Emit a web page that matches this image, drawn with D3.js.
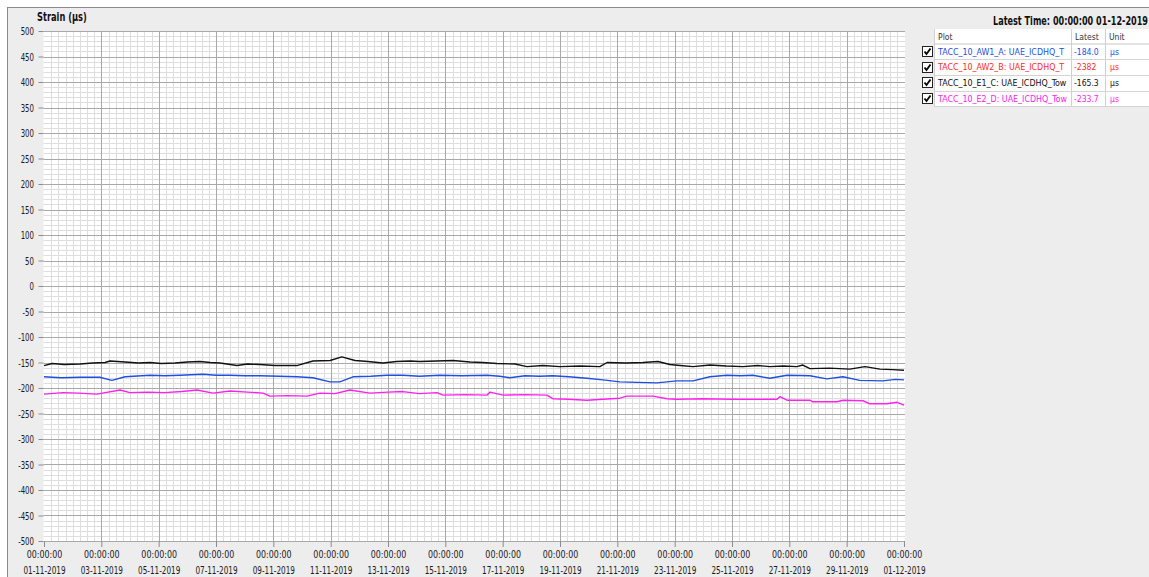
<!DOCTYPE html>
<html>
<head>
<meta charset="utf-8">
<script src="https://cdn.jsdelivr.net/npm/d3@7"></script>
<style>
  html, body { margin: 0; padding: 0; background: #fff; }
  svg text { font-family: "DejaVu Sans Condensed", "DejaVu Sans", sans-serif; }
</style>
</head>
<body>
<div id="chart"></div>
<script>
// chart values
var startDate = new Date(2019, 10, 1);   // 01-11-2019 00:00
var endDate = new Date(2019, 11, 1);     // 01-12-2019 00:00

// day offsets from start + strain values (µs)
var e1Days   = [0, 0.28, 0.7, 1.26, 1.7, 2.13, 2.3, 2.83, 3.3, 3.7, 4.1, 4.57, 5.0, 5.44, 5.8, 6.14, 6.73, 7.1, 7.53, 8.06, 8.82, 9.38, 9.98, 10.39, 10.85, 11.3, 11.82, 12.3, 12.77, 13.1, 13.7, 14.27, 14.86, 15.3, 15.8, 16.43, 16.85, 17.4, 18.0, 18.7, 19.39, 19.64, 20.3, 20.89, 21.42, 21.83, 22.2, 22.64, 23.23, 23.8, 24.38, 24.9, 25.32, 25.8, 26.26, 26.47, 26.72, 27.4, 28.11, 28.64, 29.16, 29.6, 30];
var e1Values = [-156, -152, -154, -153, -151, -150, -147, -149, -151, -150, -152, -151, -149, -148, -150, -151, -156, -153, -154, -156, -156, -147, -146, -139, -146, -148, -151, -148, -147, -148, -147, -146, -149, -150, -152, -153, -158, -156, -158, -157, -158, -150, -151, -150, -148, -154, -156, -158, -155, -157, -158, -156, -158, -157, -158, -155, -162, -161, -163, -158, -163, -164, -165.3];

var aw1Days   = [0, 0.6, 1.26, 1.95, 2.37, 2.83, 3.7, 4.2, 4.74, 5.55, 6.0, 6.49, 7.0, 7.53, 8.2, 8.82, 9.38, 9.98, 10.32, 10.78, 11.4, 11.96, 12.52, 13.1, 13.8, 14.6, 15.45, 15.9, 16.25, 16.78, 17.3, 17.75, 18.3, 18.94, 19.5, 20.09, 20.7, 21.38, 22.08, 22.64, 23.23, 23.82, 24.3, 24.73, 25.32, 25.92, 26.72, 27.31, 27.87, 28.46, 29.26, 29.7, 30];
var aw1Values = [-178, -180, -179, -179, -185, -178, -175, -176, -175, -173, -175, -175, -176, -176, -177, -178, -180, -188, -188, -178, -177, -175, -175, -177, -175, -176, -175, -177, -180, -176, -177, -176, -178, -181, -184, -188, -189, -190, -186, -186, -178, -175, -176, -175, -181, -175, -176, -182, -178, -185, -186, -183, -184.0];

var e2Days   = [0, 0.66, 1.2, 1.85, 2.65, 3.0, 3.6, 4.22, 4.8, 5.34, 5.89, 6.49, 7.1, 7.64, 7.88, 8.5, 9.17, 9.63, 10.15, 10.67, 11.37, 12.0, 12.52, 13.1, 13.71, 13.92, 14.7, 15.45, 15.56, 16.01, 16.8, 17.54, 17.75, 18.3, 18.94, 19.5, 20.09, 20.33, 21.24, 21.73, 22.08, 23.0, 24.0, 25.0, 25.57, 25.67, 25.92, 26.72, 26.82, 27.66, 27.87, 28.57, 28.81, 29.4, 29.76, 30];
var e2Values = [-212, -209, -210, -212, -204, -209, -208, -209, -207, -204, -210, -206, -208, -210, -216, -215, -216, -210, -211, -204, -210, -208, -207, -211, -209, -214, -213, -214, -208, -214, -213, -214, -221, -222, -224, -222, -220, -216, -216, -221, -222, -221, -222, -222, -222, -217, -224, -224, -227, -227, -224, -225, -231, -231, -228, -233.7];

// AW2_B sits far below the visible range
var aw2Days   = [0, 30];
var aw2Values = [-2382, -2382];

// legend table (names as far as the column shows them)
var plotNames = ["TACC_10_AW1_A: UAE_ICDHQ_T", "TACC_10_AW2_B: UAE_ICDHQ_T", "TACC_10_E1_C: UAE_ICDHQ_Tow", "TACC_10_E2_D: UAE_ICDHQ_Tow"];
var latestLabels = ["-184.0", "-2382", "-165.3", "-233.7"];
var unitLabels = ["µs", "µs", "µs", "µs"];
var seriesColors = ["#1f4fe0", "#ff2a2a", "#111111", "#ff22ee"];

var yTicks = d3.range(-500, 501, 50);

var W = 1149, H = 577;
var plotL = 43.5, plotR = 905, plotT = 31, plotB = 541;
var squeeze = 0.78;   // the source font is a narrow one

var svg = d3.select("#chart").append("svg").attr("width", W).attr("height", H);

// place a text with a horizontal squeeze
function sq(sel, px, py, s) {
  return sel.attr("x", 0).attr("y", 0).attr("transform", "translate(" + px + "," + py + ") scale(" + (s || squeeze) + ",1)");
}

// window frame
svg.append("rect").attr("x", 0).attr("y", 0).attr("width", W).attr("height", H).attr("fill", "#ffffff");
svg.append("rect").attr("x", 7.5).attr("y", 7.5).attr("width", W).attr("height", H).attr("fill", "#ededed").attr("stroke", "#8a8a8a").attr("stroke-width", 1);

var x = d3.scaleTime().domain([startDate, endDate]).range([44, 904]);
var y = d3.scaleLinear().domain([-500, 500]).range([plotB, plotT]);

svg.append("rect").attr("x", plotL).attr("y", plotT).attr("width", plotR - plotL).attr("height", plotB - plotT).attr("fill", "#ffffff");

var defs = svg.append("defs");
defs.append("clipPath").attr("id", "plotClip").append("rect")
  .attr("x", plotL).attr("y", plotT).attr("width", plotR - plotL).attr("height", plotB - plotT);

var grid = svg.append("g").attr("class", "grid");
// minor grid
grid.selectAll(".hminor").data(d3.range(-500, 501, 10).filter(function(d) { return d % 50 !== 0; }))
  .enter().append("line").attr("class", "hminor")
  .attr("x1", plotL).attr("x2", plotR)
  .attr("y1", function(d) { return Math.round(y(d)) + 0.5; }).attr("y2", function(d) { return Math.round(y(d)) + 0.5; })
  .attr("stroke", "#dedede").attr("stroke-width", 1);
grid.selectAll(".vminor").data(d3.timeHour.every(6).range(startDate, endDate).filter(function(d) { return d.getHours() !== 0 || d.getDate() % 2 === 0; }))
  .enter().append("line").attr("class", "vminor")
  .attr("y1", plotT).attr("y2", plotB)
  .attr("x1", function(d) { return Math.round(x(d)) + 0.5; }).attr("x2", function(d) { return Math.round(x(d)) + 0.5; })
  .attr("stroke", "#dedede").attr("stroke-width", 1);
// major grid
var majorDays = d3.range(0, 31, 2).map(function(k) { return d3.timeDay.offset(startDate, k); });
grid.selectAll(".hmajor").data(yTicks)
  .enter().append("line").attr("class", "hmajor")
  .attr("x1", plotL).attr("x2", plotR)
  .attr("y1", function(d) { return Math.round(y(d)) + 0.5; }).attr("y2", function(d) { return Math.round(y(d)) + 0.5; })
  .attr("stroke", "#a9a9a9").attr("stroke-width", 1);
grid.selectAll(".vmajor").data(majorDays.slice(1, -1))
  .enter().append("line").attr("class", "vmajor")
  .attr("y1", plotT).attr("y2", plotB)
  .attr("x1", function(d) { return Math.round(x(d)) + 0.5; }).attr("x2", function(d) { return Math.round(x(d)) + 0.5; })
  .attr("stroke", "#a9a9a9").attr("stroke-width", 1);

// axes
var yAxis = svg.append("g").attr("transform", "translate(" + plotL + ",0)")
  .call(d3.axisLeft(y).tickValues(yTicks).tickSize(5).tickPadding(3).tickFormat(function(d) { return String(d); }));
yAxis.select(".domain").remove();
yAxis.selectAll(".tick line").attr("stroke", "#8c8c8c");
yAxis.selectAll(".tick text").attr("font-size", "10.5px").attr("fill", "#1a1a1a").attr("dy", null)
  .each(function() { sq(d3.select(this), -9.5, 3.8, 0.74); });

var xAxis = svg.append("g").attr("transform", "translate(0," + plotB + ")")
  .call(d3.axisBottom(x).tickValues(majorDays).tickSize(6).tickFormat(""));
xAxis.select(".domain").remove();
xAxis.selectAll(".tick line").attr("stroke", "#8c8c8c");
var fmtTime = d3.timeFormat("%H:%M:%S"), fmtDate = d3.timeFormat("%d-%m-%Y");
xAxis.selectAll(".tick").each(function(d) {
  var tk = d3.select(this);
  sq(tk.append("text").attr("text-anchor", "middle").attr("fill", "#1a1a1a").attr("font-size", "10.5px").text(fmtTime(d)), 0, 16.5, 0.84);
  sq(tk.append("text").attr("text-anchor", "middle").attr("fill", "#1a1a1a").attr("font-size", "10.5px").text(fmtDate(d)), 0, 33, 0.77);
});

// series
var line = d3.line().x(function(d) { return x(d.date); }).y(function(d) { return y(d.value); });
function makeSeries(days, values) {
  return days.map(function(dd, i) { return { date: new Date(startDate.getTime() + dd * 86400000), value: values[i] }; });
}
var series = [
  { data: makeSeries(aw1Days, aw1Values), color: seriesColors[0] },
  { data: makeSeries(aw2Days, aw2Values), color: seriesColors[1] },
  { data: makeSeries(e1Days, e1Values), color: seriesColors[2] },
  { data: makeSeries(e2Days, e2Values), color: seriesColors[3] }
];
svg.append("g").attr("clip-path", "url(#plotClip)").selectAll("path").data(series).enter().append("path")
  .attr("d", function(s) { return line(s.data); })
  .attr("fill", "none").attr("stroke", function(s) { return s.color; })
  .attr("stroke-width", 1.4).attr("stroke-linejoin", "round");

// titles
sq(svg.append("text").attr("font-size", "11.5px").attr("font-weight", "bold").attr("fill", "#111").text("Strain (µs)"), 37, 21, 0.8);
sq(svg.append("text").attr("text-anchor", "end").attr("font-size", "11.5px").attr("font-weight", "bold").attr("fill", "#111").text("Latest Time: 00:00:00 01-12-2019"), 1148, 25, 0.785);

// legend table
var tblL = 934, col1 = 1071, col2 = 1105, tblR = 1160;
var rowTop = 29, headH = 14.5, rowH = 15.7;
var legend = svg.append("g").attr("font-size", "9.5px");
legend.append("rect").attr("x", tblL).attr("y", rowTop).attr("width", tblR - tblL).attr("height", headH + rowH * plotNames.length)
  .attr("fill", "#ffffff");
var cols = [{ x0: tblL, x1: col1 }, { x0: col1, x1: col2 }, { x0: col2, x1: tblR }];
cols.forEach(function(c, i) {
  defs.append("clipPath").attr("id", "col" + i).append("rect").attr("x", c.x0 + 1).attr("y", rowTop).attr("width", c.x1 - c.x0 - 2).attr("height", 200);
});
// header
var headers = ["Plot", "Latest", "Unit"];
headers.forEach(function(h, i) {
  legend.append("g").attr("clip-path", "url(#col" + i + ")")
    .call(function(g) { sq(g.append("text").attr("fill", "#333").text(h), cols[i].x0 + 4, rowTop + 10.5, 0.9); });
});
legend.append("line").attr("x1", tblL).attr("x2", tblR).attr("y1", rowTop + headH + 0.5).attr("y2", rowTop + headH + 0.5).attr("stroke", "#c8c8c8");
[col1, col2].forEach(function(cx) {
  legend.append("line").attr("x1", cx + 0.5).attr("x2", cx + 0.5).attr("y1", rowTop).attr("y2", rowTop + headH + rowH * plotNames.length).attr("stroke", "#d0d0d0");
});
plotNames.forEach(function(name, r) {
  var ry = rowTop + headH + rowH * r;
  legend.append("line").attr("x1", tblL).attr("x2", tblR).attr("y1", Math.round(ry + rowH) + 0.5).attr("y2", Math.round(ry + rowH) + 0.5).attr("stroke", "#d4d4d4");
  legend.append("g").attr("clip-path", "url(#col0)")
    .call(function(g) { sq(g.append("text").attr("fill", seriesColors[r]).text(name), tblL + 4, ry + 11, 0.93); });
  legend.append("g").attr("clip-path", "url(#col1)")
    .call(function(g) { sq(g.append("text").attr("fill", seriesColors[r]).text(latestLabels[r]), col1 + 3, ry + 11, 0.9); });
  legend.append("g").attr("clip-path", "url(#col2)")
    .call(function(g) { sq(g.append("text").attr("fill", seriesColors[r]).text(unitLabels[r]), col2 + 5, ry + 11, 0.9); });
  // checkbox
  var cb = legend.append("g").attr("transform", "translate(922," + Math.round(ry + 2.5) + ")");
  cb.append("rect").attr("x", 0.5).attr("y", 0.5).attr("width", 10).attr("height", 10).attr("fill", "#fff").attr("stroke", "#222");
  cb.append("path").attr("d", "M2.5,5.5 L4.5,8 L8.5,2.5").attr("fill", "none").attr("stroke", "#000").attr("stroke-width", 1.8);
});
legend.append("line").attr("x1", tblL + 0.5).attr("x2", tblL + 0.5).attr("y1", rowTop).attr("y2", rowTop + headH + rowH * plotNames.length).attr("stroke", "#d0d0d0");
</script>
</body>
</html>
